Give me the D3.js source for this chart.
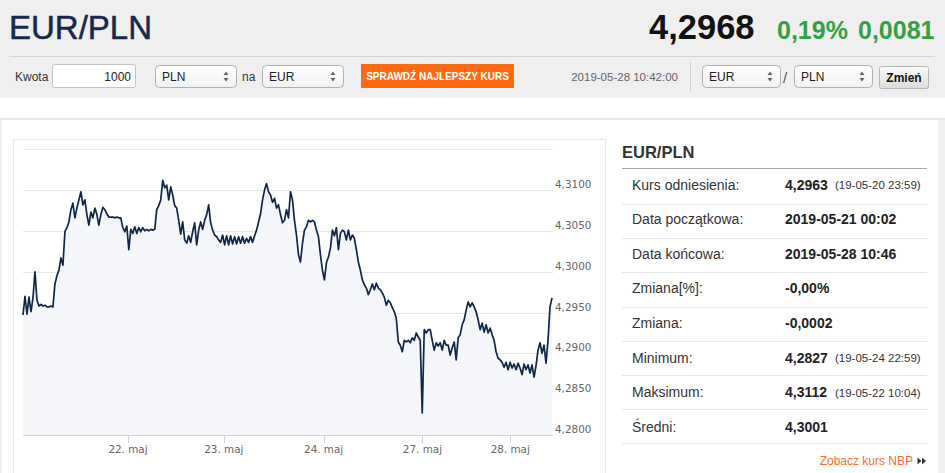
<!DOCTYPE html>
<html><head><meta charset="utf-8">
<script src="https://cdn.jsdelivr.net/npm/d3@7/dist/d3.min.js"></script>
<style>
html,body{margin:0;padding:0;background:#f0f0f0;overflow:hidden;}
svg{display:block;}
</style></head>
<body>
<svg id="page" width="945" height="473"></svg>
<script>
// ---------- data ----------
const pairTitle = "EUR/PLN";
const lastRate = "4,2968";
const changePct = "0,19%";
const changeAbs = "0,0081";
const timestamp = "2019-05-28 10:42:00";

const rates = [
4.2947,4.2970,4.2948,4.2969,4.2951,4.2968,4.3000,4.2965,4.2958,4.2960,4.2958,4.2959,4.2957,4.2957,4.2958,4.2957,
4.2985,4.2995,4.3002,4.3017,4.3008,4.3049,4.3054,4.3061,4.3076,4.3084,4.3066,4.3078,4.3088,4.3098,4.3082,4.3088,
4.3070,4.3057,4.3073,4.3066,4.3078,4.3070,4.3057,4.3070,4.3079,4.3076,4.3071,4.3067,4.3067,4.3067,4.3066,4.3067,
4.3066,4.3066,4.3054,4.3049,4.3056,4.3027,4.3052,4.3047,4.3055,4.3047,4.3054,4.3049,4.3054,4.3050,4.3052,4.3050,
4.3052,4.3051,4.3052,4.3076,4.3081,4.3088,4.3112,4.3103,4.3106,4.3088,4.3104,4.3094,4.3081,4.3078,4.3063,4.3046,
4.3061,4.3039,4.3035,4.3044,4.3036,4.3049,4.3060,4.3033,4.3051,4.3061,4.3052,4.3063,4.3070,4.3082,4.3060,4.3051,
4.3045,4.3043,4.3039,4.3036,4.3045,4.3033,4.3044,4.3033,4.3044,4.3034,4.3043,4.3034,4.3043,4.3035,4.3043,4.3035,
4.3041,4.3036,4.3043,4.3036,4.3044,4.3051,4.3061,4.3071,4.3088,4.3100,4.3108,4.3098,4.3094,4.3085,4.3090,4.3078,
4.3082,4.3070,4.3060,4.3063,4.3076,4.3066,4.3098,4.3088,4.3063,4.3045,4.3021,4.3012,4.3035,4.3051,4.3055,4.3063,
4.3061,4.3063,4.3061,4.3051,4.3043,4.3021,4.3002,4.2990,4.3011,4.3018,4.3029,4.3051,4.3044,4.3054,4.3027,4.3047,
4.3051,4.3049,4.3039,4.3051,4.3039,4.3045,4.3041,4.3027,4.3012,4.3002,4.2990,4.2984,4.2980,4.2972,4.2978,4.2985,
4.2978,4.2986,4.2980,4.2978,4.2974,4.2969,4.2959,4.2965,4.2962,4.2956,4.2951,4.2943,4.2914,4.2910,4.2902,4.2916,
4.2914,4.2916,4.2913,4.2919,4.2916,4.2925,4.2920,4.2916,4.2827,4.2929,4.2925,4.2929,4.2929,4.2916,4.2904,4.2913,
4.2909,4.2913,4.2904,4.2916,4.2910,4.2910,4.2898,4.2907,4.2914,4.2892,4.2919,4.2923,4.2935,4.2941,4.2953,4.2963,
4.2957,4.2962,4.2957,4.2951,4.2941,4.2929,4.2937,4.2926,4.2935,4.2925,4.2931,4.2923,4.2916,4.2902,4.2894,4.2892,
4.2889,4.2883,4.2889,4.2880,4.2889,4.2882,4.2887,4.2880,4.2888,4.2882,4.2874,4.2887,4.2880,4.2886,4.2876,4.2886,
4.2871,4.2885,4.2904,4.2913,4.2900,4.2910,4.2888,4.2916,4.2957,4.2968
];
const xTickIndex = [52.6, 100.6, 150.6, 200.1, 244.1];
const xTickLabels = ["22. maj", "23. maj", "24. maj", "27. maj", "28. maj"];
const yTicks = [4.280, 4.285, 4.290, 4.295, 4.300, 4.305, 4.310, 4.315];
const yTickLabels = ["4,2800", "4,2850", "4,2900", "4,2950", "4,3000", "4,3050", "4,3100", ""];

const statLabels = ["Kurs odniesienia:", "Data początkowa:", "Data końcowa:", "Zmiana[%]:", "Zmiana:", "Minimum:", "Maksimum:", "Średni:"];
const statValues = ["4,2963", "2019-05-21 00:02", "2019-05-28 10:46", "-0,00%", "-0,0002", "4,2827", "4,3112", "4,3001"];
const statNotes = ["(19-05-20 23:59)", "", "", "", "", "(19-05-24 22:59)", "(19-05-22 10:04)", ""];

// ---------- page ----------
const svg = d3.select("#page");
const SANS = "'Liberation Sans', Arial, sans-serif";
const DJ = "'DejaVu Sans', Verdana, sans-serif";

// backgrounds
svg.append("rect").attr("x",0).attr("y",0).attr("width",945).attr("height",473).attr("fill","#f0f0f0");
svg.append("rect").attr("x",0).attr("y",0).attr("width",945).attr("height",98).attr("fill","#efefef");
svg.append("rect").attr("x",0).attr("y",98).attr("width",945).attr("height",20).attr("fill","#ffffff");
svg.append("rect").attr("x",0).attr("y",118).attr("width",945).attr("height",2).attr("fill","#e8e8e8");
svg.append("rect").attr("x",2).attr("y",120).attr("width",936).attr("height",360).attr("fill","#ffffff");

// header
svg.append("text").attr("x",9).attr("y",39).attr("font-family",SANS).attr("font-size",33)
  .attr("fill","#18284a").attr("stroke","#18284a").attr("stroke-width",0.5).text(pairTitle);
svg.append("text").attr("x",649).attr("y",39).attr("font-family",SANS).attr("font-size",34.5)
  .attr("font-weight","bold").attr("fill","#111").text(lastRate);
svg.append("text").attr("x",777).attr("y",39).attr("font-family",SANS).attr("font-size",25)
  .attr("font-weight","bold").attr("fill","#33a043").text(changePct);
svg.append("text").attr("x",858).attr("y",39).attr("font-family",SANS).attr("font-size",25)
  .attr("font-weight","bold").attr("fill","#33a043").text(changeAbs);
svg.append("line").attr("x1",9).attr("x2",935).attr("y1",56.5).attr("y2",56.5).attr("stroke","#d2d2d2");

// form row
const defs = svg.append("defs");
const g1 = defs.append("linearGradient").attr("id","selg").attr("x1",0).attr("x2",0).attr("y1",0).attr("y2",1);
g1.append("stop").attr("offset","0%").attr("stop-color","#ffffff");
g1.append("stop").attr("offset","100%").attr("stop-color","#f1f1f1");
const g2 = defs.append("linearGradient").attr("id","btng").attr("x1",0).attr("x2",0).attr("y1",0).attr("y2",1);
g2.append("stop").attr("offset","0%").attr("stop-color","#fafafa");
g2.append("stop").attr("offset","100%").attr("stop-color","#dcdcdc");

svg.append("text").attr("x",15).attr("y",81).attr("font-family",SANS).attr("font-size",12).attr("fill","#333").text("Kwota");
svg.append("rect").attr("x",52.5).attr("y",64.5).attr("width",83).attr("height",23).attr("rx",2)
  .attr("fill","#fff").attr("stroke","#c4c4c4");
svg.append("text").attr("x",131).attr("y",81).attr("text-anchor","end").attr("font-family",SANS).attr("font-size",12).attr("fill","#222").text("1000");

function select(x, w, label){
  svg.append("rect").attr("x",x+0.5).attr("y",65.5).attr("width",w).attr("height",22).attr("rx",4)
    .attr("fill","url(#selg)").attr("stroke","#b0b0b0");
  svg.append("text").attr("x",x+7).attr("y",81).attr("font-family",SANS).attr("font-size",12).attr("fill","#222").text(label);
  const ax = x + w - 10, ay = 76.5;
  svg.append("path").attr("d",`M${ax-2.5},${ay-1.5}L${ax+2.5},${ay-1.5}L${ax},${ay-5}Z`).attr("fill","#666");
  svg.append("path").attr("d",`M${ax-2.5},${ay+1.5}L${ax+2.5},${ay+1.5}L${ax},${ay+5}Z`).attr("fill","#666");
}
select(155, 81, "PLN");
svg.append("text").attr("x",242).attr("y",81).attr("font-family",SANS).attr("font-size",12).attr("fill","#333").text("na");
select(262, 81, "EUR");

svg.append("rect").attr("x",361).attr("y",64).attr("width",153).attr("height",24).attr("fill","#ff6a10");
svg.append("text").attr("x",437.5).attr("y",80).attr("text-anchor","middle").attr("font-family",SANS)
  .attr("font-size",10).attr("font-weight","bold").attr("fill","#fff").text("SPRAWDŹ NAJLEPSZY KURS");

svg.append("text").attr("x",678).attr("y",81).attr("text-anchor","end").attr("font-family",SANS).attr("font-size",11.5).attr("fill","#666").text(timestamp);
svg.append("line").attr("x1",690.5).attr("x2",690.5).attr("y1",62).attr("y2",92).attr("stroke","#d0d0d0");
select(702, 78, "EUR");
svg.append("text").attr("x",783).attr("y",83).attr("font-family",SANS).attr("font-size",15).attr("fill","#555").text("/");
select(794, 78, "PLN");
svg.append("rect").attr("x",879.5).attr("y",66.5).attr("width",49).attr("height",22).attr("rx",2)
  .attr("fill","url(#btng)").attr("stroke","#b8b8b8");
svg.append("text").attr("x",904).attr("y",82).attr("text-anchor","middle").attr("font-family",SANS)
  .attr("font-size",12).attr("font-weight","bold").attr("fill","#111").text("Zmień");

// ---------- chart ----------
svg.append("rect").attr("x",13.5).attr("y",139.5).attr("width",592).attr("height",345)
  .attr("fill","#fff").attr("stroke","#e6e6e6");

const x = d3.scaleLinear().domain([0, rates.length - 1]).range([23, 552]);
const y = d3.scaleLinear().domain([4.280, 4.315]).range([435, 149.3]);
const chart = svg.append("g");

// grid
chart.selectAll("line.grid").data(yTicks).join("line").attr("class","grid")
  .attr("x1",23).attr("x2",553)
  .attr("y1",d=>Math.round(y(d))+0.5).attr("y2",d=>Math.round(y(d))+0.5)
  .attr("stroke","#e6e6e6");

// area + line
const area = d3.area().x((d,i)=>x(i)).y0(y(4.280)).y1(d=>y(d));
const line = d3.line().x((d,i)=>x(i)).y(d=>y(d));
chart.append("path").datum(rates).attr("d",area).attr("fill","#f4f6f9");
chart.append("path").datum(rates).attr("d",line).attr("fill","none")
  .attr("stroke","#0f2647").attr("stroke-width",1.7).attr("stroke-linejoin","round");

// x axis
chart.append("line").attr("x1",23).attr("x2",553).attr("y1",435.5).attr("y2",435.5).attr("stroke","#ccd6eb");
chart.selectAll("line.xt").data(xTickIndex).join("line").attr("class","xt")
  .attr("x1",d=>Math.round(x(d))+0.5).attr("x2",d=>Math.round(x(d))+0.5)
  .attr("y1",435).attr("y2",443.5).attr("stroke","#ccd6eb");
chart.selectAll("text.xl").data(xTickIndex).join("text").attr("class","xl")
  .attr("x",d=>x(d)).attr("y",453).attr("text-anchor","middle")
  .attr("font-family",DJ).attr("font-size",10.4).attr("fill","#666")
  .text((d,i)=>xTickLabels[i]);

// y axis labels (right)
chart.selectAll("text.yl").data(yTicks).join("text").attr("class","yl")
  .attr("x",555).attr("y",d=>y(d)-2)
  .attr("font-family",DJ).attr("font-size",10.4).attr("fill","#666")
  .text((d,i)=>yTickLabels[i]);

// ---------- stats table ----------
const tbl = svg.append("g");
tbl.append("text").attr("x",622).attr("y",158).attr("font-family",SANS).attr("font-size",16.5)
  .attr("font-weight","bold").attr("fill","#333").text(pairTitle);
tbl.append("line").attr("x1",622).attr("x2",927).attr("y1",168.5).attr("y2",168.5).attr("stroke","#a8a8a8");

statLabels.forEach((lab, i) => {
  const cy = 184.5 + 34.6 * i;
  tbl.append("text").attr("x",632).attr("y",cy+5).attr("font-family",SANS).attr("font-size",14)
    .attr("fill","#333").text(lab);
  tbl.append("text").attr("x",785).attr("y",cy+5).attr("font-family",SANS).attr("font-size",14)
    .attr("font-weight","bold").attr("fill","#222").text(statValues[i]);
  if (statNotes[i]) {
    tbl.append("text").attr("x",835).attr("y",cy+4.5).attr("font-family",SANS).attr("font-size",11.5)
      .attr("fill","#333").text(statNotes[i]);
  }
  const sy = Math.round(204 + 34.2 * i) + 0.5;
  tbl.append("line").attr("x1",622).attr("x2",927).attr("y1",sy).attr("y2",sy).attr("stroke","#e6e6e6");
});

tbl.append("text").attr("x",913).attr("y",465).attr("text-anchor","end").attr("font-family",SANS)
  .attr("font-size",12).attr("fill","#f26f26").text("Zobacz kurs NBP");
[917.5, 922].forEach(ax => {
  tbl.append("path").attr("d",`M${ax},457.5L${ax+4},461L${ax},464.5Z`).attr("fill","#333");
});
</script>
</body></html>
